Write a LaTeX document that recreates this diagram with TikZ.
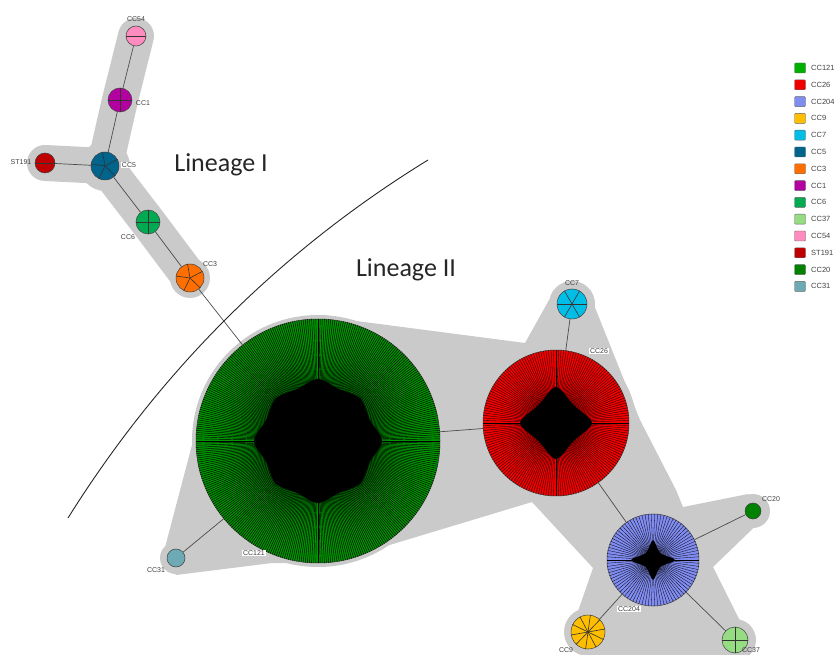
\documentclass[tikz,border=0pt]{standalone}
\usepackage{fontspec}
\setmainfont{Liberation Sans}
\newfontfamily\linfont{Carlito}
\usetikzlibrary{backgrounds}

\definecolor{cc121col}{RGB}{0,176,0}
\definecolor{cc121fill}{RGB}{0,150,0}
\definecolor{cc26col}{RGB}{240,0,0}
\definecolor{cc204col}{RGB}{128,140,240}
\definecolor{cc9col}{RGB}{255,190,0}
\definecolor{cc7col}{RGB}{0,190,230}
\definecolor{cc5col}{RGB}{0,100,140}
\definecolor{cc3col}{RGB}{255,110,0}
\definecolor{cc1col}{RGB}{180,0,160}
\definecolor{cc6col}{RGB}{0,170,80}
\definecolor{cc37col}{RGB}{150,220,130}
\definecolor{cc54col}{RGB}{255,140,190}
\definecolor{st191col}{RGB}{190,0,0}
\definecolor{cc20col}{RGB}{0,130,0}
\definecolor{cc31col}{RGB}{110,170,180}
\definecolor{hullgray}{RGB}{202,202,202}

\tikzset{
  st/.style={circle, draw=black!75, line width=0.5pt, inner sep=0pt, minimum size=#1},
  slice/.style={draw=black!80, line width=0.6pt},
  spoke/.style={draw=black, line width=0.35pt},
  link/.style={draw=black!70, line width=0.7pt},
  hullband/.style={draw=hullgray, line width=36pt, line cap=round, line join=round},
  lbl/.style={font=\fontsize{7}{8}\selectfont, text=black!75, inner sep=1pt},
  wlbl/.style={lbl, fill=white},
  key/.style={draw=black!60, line width=0.4pt, minimum width=11pt, minimum height=10pt, inner sep=0pt, rounded corners=1pt},
  lin/.style={font=\linfont\fontsize{26}{28}\selectfont, text=black!85}
}

\begin{document}
\begin{tikzpicture}[x=1pt, y=-1pt]
  \useasboundingbox (0,0) rectangle (836,655);
  \clip (0,0) rectangle (836,655);

  % lineage I
  \node[st=20pt, fill=cc54col] (cc54) at (136,36) {};
  \node[st=24pt, fill=cc1col] (cc1) at (120,100) {};
  \node[st=28pt, fill=cc5col] (cc5) at (105,166) {};
  \node[st=20pt, fill=st191col] (st191) at (45,163) {};
  \node[st=24pt, fill=cc6col] (cc6) at (148,222) {};
  \node[st=28pt, fill=cc3col] (cc3) at (190,278) {};

  % lineage II
  \node[st=244pt, fill=cc121fill] (cc121) at (318,441) {};
  \node[st=146pt, fill=cc26col] (cc26) at (556,423) {};
  \node[st=30pt, fill=cc7col] (cc7) at (572,304) {};
  \node[st=92pt, fill=cc204col] (cc204) at (653,560) {};
  \node[st=16pt, fill=cc20col] (cc20) at (753,511) {};
  \node[st=34pt, fill=cc9col] (cc9) at (588,632) {};
  \node[st=26pt, fill=cc37col] (cc37) at (735,640) {};
  \node[st=18pt, fill=cc31col] (cc31) at (176,558) {};

  % slices
  \draw[slice] (cc54.180) -- (cc54.0);
  \draw[slice] (st191.180) -- (st191.0);
  \draw[slice] (cc1.180) -- (cc1.0) (cc1.90) -- (cc1.270);
  \draw[slice] (cc6.180) -- (cc6.0) (cc6.90) -- (cc6.270);
  \draw[slice] (cc37.180) -- (cc37.0) (cc37.90) -- (cc37.270);
  \foreach \a in {28,100,172,244,316} {
    \draw[slice] (cc5.center) -- (cc5.\a);
    \draw[slice] (cc3.center) -- (cc3.\a);
  }
  \foreach \a in {0,60,...,300}
    \draw[slice] (cc7.center) -- (cc7.\a);
  \foreach \a in {10,46,...,334}
    \draw[slice] (cc9.center) -- (cc9.\a);

  % spokes of the big ones
  \foreach \a in {0.5,1.5,...,359.5}
    \draw[spoke, line width=0.45pt] (cc121.center) -- (cc121.\a);
  \foreach \a in {0,2,...,358}
    \draw[spoke, line width=0.3pt] (cc26.center) -- (cc26.\a);
  \foreach \a in {0,4,...,356}
    \draw[spoke, line width=0.3pt] (cc204.center) -- (cc204.\a);
  \begin{scope}[shift={(cc121.center)}]
    \fill[black] plot[smooth cycle] coordinates {(0:64) (22:56) (45:60) (68:56) (90:62) (112:56) (135:60) (158:56)
      (180:64) (202:56) (225:60) (248:56) (270:62) (292:56) (315:60) (338:56)};
  \end{scope}
  \begin{scope}[shift={(cc26.center)}]
    \fill[black] plot[smooth cycle] coordinates {(0:36) (45:25) (90:36) (135:25) (180:36) (225:25) (270:36) (315:25)};
  \end{scope}
  \begin{scope}[shift={(cc204.center)}]
    \fill[black] plot[smooth cycle] coordinates {(0:22) (45:10) (90:20) (135:10) (180:22) (225:10) (270:20) (315:10)};
  \end{scope}

  % connectors
  \draw[link] (cc54) -- (cc1);
  \draw[link] (cc1) -- (cc5);
  \draw[link] (cc5) -- (st191);
  \draw[link] (cc5) -- (cc6);
  \draw[link] (cc6) -- (cc3);
  \draw[link] (cc3) -- (cc121);
  \draw[link] (cc121) -- (cc26);
  \draw[link] (cc121) -- (cc31);
  \draw[link] (cc26) -- (cc7);
  \draw[link] (cc26) -- (cc204);
  \draw[link] (cc204) -- (cc20);
  \draw[link] (cc204) -- (cc9);
  \draw[link] (cc204) -- (cc37);

  % labels
  \node[lbl] (l-cc54) at (136,19) {CC54};
  \node[lbl] (l-cc1) at (143,103) {CC1};
  \node[wlbl] (l-cc5) at (129,165) {CC5};
  \node[lbl] (l-st191) at (21,162) {ST191};
  \node[lbl] (l-cc6) at (128,237) {CC6};
  \node[lbl] (l-cc3) at (210,264) {CC3};
  \node[lbl] (l-cc7) at (572,283) {CC7};
  \node[wlbl] (l-cc26) at (599,351) {CC26};
  \node[wlbl] (l-cc121) at (254,553) {CC121};
  \node[lbl] (l-cc31) at (156,570) {CC31};
  \node[lbl] (l-cc20) at (771,499) {CC20};
  \node[wlbl] (l-cc204) at (629,609) {CC204};
  \node[lbl] (l-cc9) at (566,650) {CC9};
  \node[lbl] (l-cc37) at (751,650) {CC37};

  \node[lin] (lin1) at (221,165) {Lineage I};
  \node[lin] (lin2) at (406,270) {Lineage II};

  % the divide
  \draw[line width=0.9pt, black!85] (68,518) .. controls (160,371) and (280,251) .. (428,160);

  % legend
  \foreach \c/\t [count=\i] in {cc121col/CC121, cc26col/CC26, cc204col/CC204, cc9col/CC9, cc7col/CC7,
      cc5col/CC5, cc3col/CC3, cc1col/CC1, cc6col/CC6, cc37col/CC37, cc54col/CC54, st191col/ST191,
      cc20col/CC20, cc31col/CC31} {
    \node[key, fill=\c] (key\i) at (800,{68+16.8*(\i-1)}) {};
    \node[lbl, anchor=west, font=\fontsize{7.5}{9}\selectfont] (keyl\i) at (810,{68+16.8*(\i-1)}) {\t};
  }

  % hulls
  \begin{pgfonlayer}{background}
    \draw[hullband] (cc54.center) -- (cc1.center) -- (cc5.center) -- (cc6.center) -- (cc3.center);
    \draw[hullband] (cc5.center) -- (st191.center);
    \fill[hullgray] (cc5.center) circle (25) (cc3.center) circle (20);
    \fill[hullgray] (163,555) -- (192,445) -- (318,316) -- (525,343) -- (549,300) -- (594,305)
      -- (640,420) -- (676,490) -- (683,507) -- (748,494) -- (768,514) -- (713,567) -- (752,645)
      -- (740,662) -- (590,662) -- (568,640) -- (593,568) -- (532,502) -- (330,563) -- (272,563)
      -- (176,575) -- cycle;
    \fill[hullgray] (cc121.center) circle (126) (cc26.center) circle (80) (cc7.center) circle (23)
      (cc204.center) circle (53) (cc20.center) circle (17) (cc9.center) circle (24)
      (cc37.center) circle (21) (cc31.center) circle (16);
  \end{pgfonlayer}
\end{tikzpicture}
\end{document}
